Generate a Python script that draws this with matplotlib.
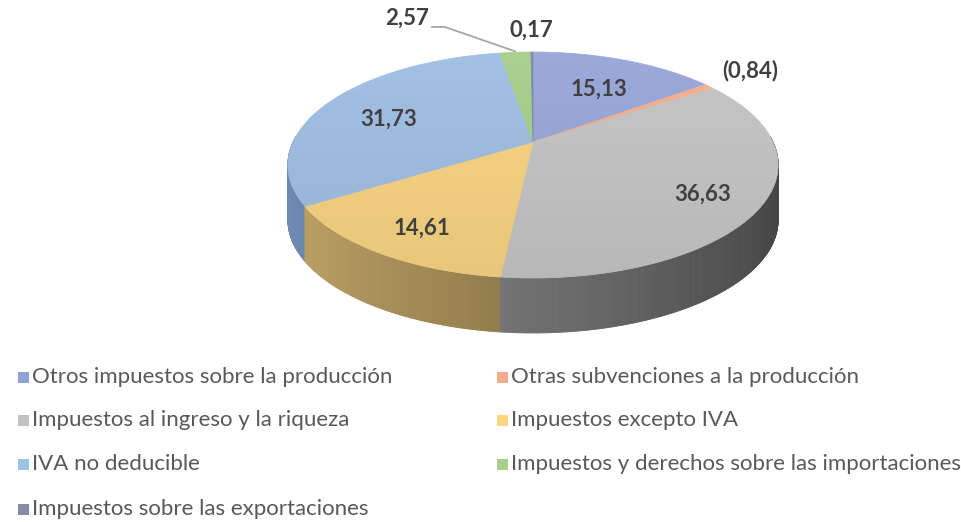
import numpy as np
import matplotlib
import matplotlib.pyplot as plt
from matplotlib.patches import Polygon, Rectangle
from matplotlib.collections import PolyCollection
from matplotlib.colors import to_rgb

plt.rcParams['font.family'] = ['Lato', 'DejaVu Sans']

categories = ['Otros impuestos sobre la producción',
              'Otras subvenciones a la producción',
              'Impuestos al ingreso y la riqueza',
              'Impuestos excepto IVA',
              'IVA no deducible',
              'Impuestos y derechos sobre las importaciones',
              'Impuestos sobre las exportaciones']
values = [15.13, -0.84, 36.63, 14.61, 31.73, 2.57, 0.17]
legend_colors = ['#8fa1d5', '#f4aa8c', '#c2c2c2', '#ffd67f', '#9fc2e7', '#a8d08c', '#858ca6']
top_colors = ['#9aa9da', '#f4b193', '#c6c6c6', '#f9d584', '#a2c0e4', '#a9d08e', '#858ca6']

# pie geometry (pixels), light perspective
cx, cy = 533, 142
rx, ry = 240, 108.3
k = 0.2035
depth = 55


def proj(theta, r=1.0):
    u = r * np.sin(theta)
    v = r * np.cos(theta)
    s = 1.0 / (1 + k * v)
    return cx + rx * u * s, cy - ry * v * s


def fmt(v):
    txt = f"{abs(v):.2f}".replace('.', ',')
    return f"({txt})" if v < 0 else txt


fig = plt.figure(figsize=(9.61, 5.22), dpi=100)
ax = fig.add_axes([0, 0, 1, 1])
ax.set_xlim(0, 961)
ax.set_ylim(522, 0)
ax.axis('off')

sizes = np.abs(values)
bounds = np.concatenate([[0], np.cumsum(sizes)]) / sizes.sum() * 2 * np.pi

# side walls
quads, qcols, qv = [], [], []
for i in range(len(values)):
    t = np.linspace(bounds[i], bounds[i + 1], max(2, int((bounds[i + 1] - bounds[i]) / 0.01)))
    for a, b in zip(t[:-1], t[1:]):
        m = (a + b) / 2
        if np.cos(m) > 0.05:
            continue
        xa, ya = proj(a)
        xb, yb = proj(b)
        quads.append([(xa, ya), (xb, yb), (xb, yb + depth), (xa, ya + depth)])
        f = 0.56 - 0.22 * np.sin(m)
        base = np.array(to_rgb(top_colors[i]))
        if i == 4:
            base = np.array(to_rgb('#8fb4e6'))
        qcols.append(tuple(np.clip(base * f, 0, 1)))
        qv.append(np.cos(m))
order = np.argsort(qv)[::-1]
pc = PolyCollection([quads[j] for j in order], facecolors=[qcols[j] for j in order],
                    edgecolors=[qcols[j] for j in order], linewidths=0.6)
ax.add_collection(pc)

# top faces
for i in range(len(values)):
    t = np.linspace(bounds[i], bounds[i + 1], 200)
    xs, ys = proj(t)
    pts = [(cx, cy)] + list(zip(xs, ys))
    ax.add_patch(Polygon(pts, closed=True, facecolor=top_colors[i],
                         edgecolor=top_colors[i], lw=0.5))

# soft vertical shading over the top face
t = np.linspace(0, 2 * np.pi, 400)
ex, ey = proj(t)
rim = Polygon(list(zip(ex, ey)), closed=True, facecolor='none', edgecolor='none')
ax.add_patch(rim)
grad = np.zeros((100, 2, 4))
grad[:, :, 3] = np.linspace(0, 0.07, 100)[:, None]
im = ax.imshow(grad, extent=(ex.min(), ex.max(), ey.max(), ey.min()), aspect='auto', zorder=3)
im.set_clip_path(rim)

# data labels
lab_kw = dict(fontsize=16, fontweight='bold', color='#404040', ha='center', va='center', zorder=5)
inner_r = [0.68, 0, 0.76, 0.76, 0.7]
for i, v in enumerate(values):
    mid = (bounds[i] + bounds[i + 1]) / 2
    share = sizes[i] / sizes.sum()
    if share > 0.05:
        x, y = proj(mid, inner_r[i])
        ax.text(x, y + 6, fmt(v), **lab_kw)
    elif i == 1:
        x, y = proj(mid, 1.27)
        ax.text(x, y - 3, fmt(v), **lab_kw)
    elif i == 6:
        x, y = proj(mid, 1.3)
        ax.text(x, y, fmt(v), **lab_kw)
    else:
        x0, y0 = proj(mid, 1.0)
        ax.plot([x0, 445, 432], [y0 - 1, 27, 27], color='#a6a6a6', lw=1.3, zorder=5)
        ax.text(429, 18, fmt(v), **dict(lab_kw, ha='right'))

# legend
row_y = [377, 420, 464, 509]
col_x = [18, 497]
for i, name in enumerate(categories):
    x = col_x[i % 2]
    y = row_y[i // 2]
    ax.add_patch(Rectangle((x, y - 5.5), 11, 11, facecolor=legend_colors[i], edgecolor='none'))
    ax.text(x + 14, y, name, fontsize=16, color='#595959', ha='left', va='center')

fig.savefig('out.png', dpi=100)
